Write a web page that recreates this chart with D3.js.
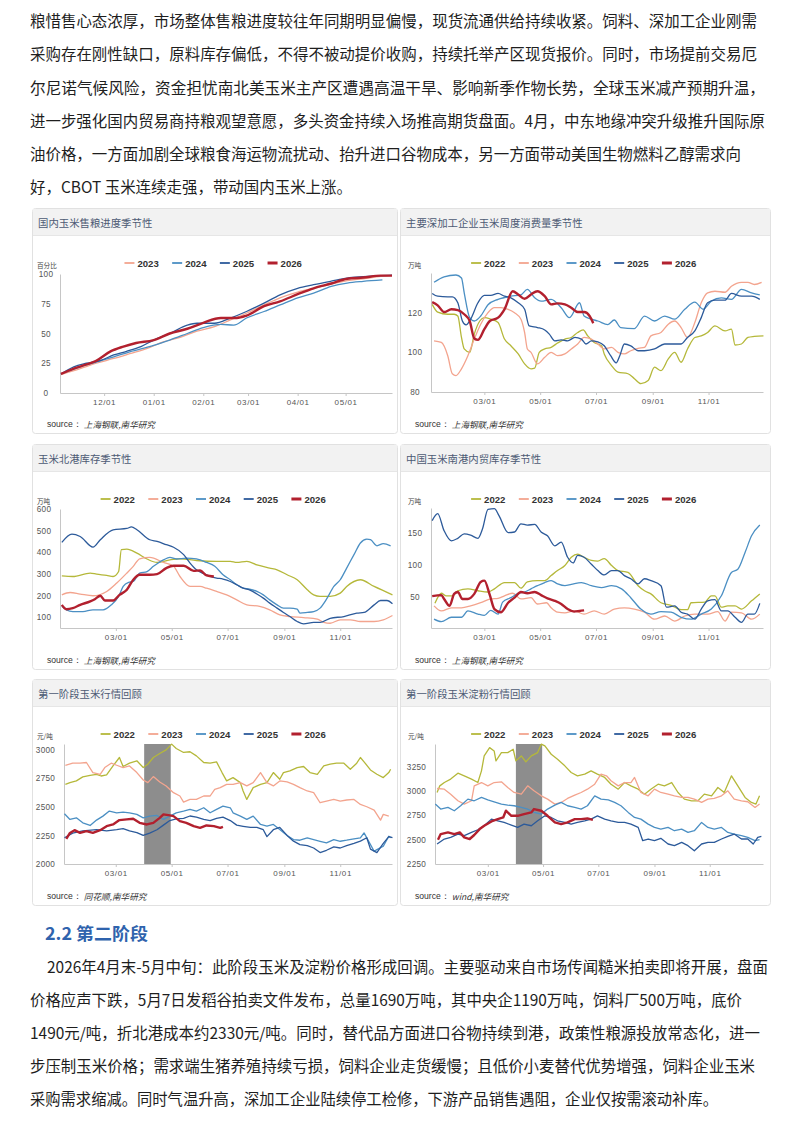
<!DOCTYPE html>
<html><head><meta charset="utf-8">
<script src="https://cdn.jsdelivr.net/npm/d3@7"></script>
<style>body{margin:0;background:#fff}svg{display:block}</style>
</head><body><svg id="page" width="800" height="1121"></svg>
<script>
// ================= DATA =================
const introLines = [
"粮惜售心态浓厚，市场整体售粮进度较往年同期明显偏慢，现货流通供给持续收紧。饲料、深加工企业刚需",
"采购存在刚性缺口，原料库存偏低，不得不被动提价收购，持续托举产区现货报价。同时，市场提前交易厄",
"尔尼诺气候风险，资金担忧南北美玉米主产区遭遇高温干旱、影响新季作物长势，全球玉米减产预期升温，",
"进一步强化国内贸易商持粮观望意愿，多头资金持续入场推高期货盘面。4月，中东地缘冲突升级推升国际原",
"油价格，一方面加剧全球粮食海运物流扰动、抬升进口谷物成本，另一方面带动美国生物燃料乙醇需求向",
"好，CBOT 玉米连续走强，带动国内玉米上涨。"];
const sectionTitle = "2.2 第二阶段";
const sectionLines = [
"2026年4月末-5月中旬：此阶段玉米及淀粉价格形成回调。主要驱动来自市场传闻糙米拍卖即将开展，盘面",
"价格应声下跌，5月7日发稻谷拍卖文件发布，总量1690万吨，其中央企1190万吨，饲料厂500万吨，底价",
"1490元/吨，折北港成本约2330元/吨。同时，替代品方面进口谷物持续到港，政策性粮源投放常态化，进一",
"步压制玉米价格；需求端生猪养殖持续亏损，饲料企业走货缓慢；且低价小麦替代优势增强，饲料企业玉米",
"采购需求缩减。同时气温升高，深加工企业陆续停工检修，下游产品销售遇阻，企业仅按需滚动补库。"];

const panelTitles = ["国内玉米售粮进度季节性","主要深加工企业玉米周度消费量季节性","玉米北港库存季节性",
  "中国玉米南港内贸库存季节性","第一阶段玉米行情回顾","第一阶段玉米淀粉行情回顾"];
const units = ["百分比","万吨","万吨","万吨","元/吨","元/吨"];
const sources = ["上海钢联,南华研究","上海钢联,南华研究","上海钢联,南华研究","上海钢联,南华研究","同花顺,南华研究","wind,南华研究"];
const years4 = ["2023","2024","2025","2026"];
const years5 = ["2022","2023","2024","2025","2026"];
const seasonTicks = ["12/01","01/01","02/01","03/01","04/01","05/01"];
const yearTicks = ["03/01","05/01","07/01","09/01","11/01"];
const yTicks1 = [0,25,50,75,100];
const yTicks2 = [80,100,120];
const yTicks3 = [100,200,300,400,500,600];
const yTicks4 = [50,100,150];
const yTicks5 = [2000,2250,2500,2750,3000];
const yTicks6 = [2250,2500,2750,3000,3250];
const shadeDates = ["04/01","04/30"];

// chart 1: [days since Nov 1, % sold]
const sales2023 = [[3,15.5],[15,20.5],[25,25],[36,29],[46,33],[57,37.5],[67,43],[78,47],[88,52],[99,55.8],[109,61.4],[119,67],[130,74],[140,80],[151,84.8],[161,88],[172,91.5],[182,94.4],[192,96],[203,98],[209,98.6]];
const sales2024 = [[3,16],[15,22],[25,26],[36,30.4],[46,34.6],[61,40],[71,44.5],[82,50],[92,55],[103,57.7],[111,57],[119,63],[130,68.5],[140,74],[151,80],[161,84],[172,89.6],[182,92.4],[192,93.8],[204,95]];
const sales2025 = [[3,16],[11,22],[19,25],[28,27.5],[36,32],[44,35],[53,39],[61,44.5],[71,50],[82,57],[88,58.6],[99,58.6],[109,63],[119,68.5],[130,75.5],[140,82.5],[151,88],[161,91],[172,94],[182,96.6],[192,97.7],[203,98.6],[210,99]];
const sales2026 = [[3,16],[11,20.5],[19,24],[25,27],[34,35],[42,39],[50,42],[61,44.5],[71,50],[82,54],[92,59],[103,63],[113,63],[119,65],[130,73],[140,77],[151,83],[161,88],[172,92],[182,96],[192,97],[203,98.6],[210,98.6]];

// chart 2: [day of year, 万吨]
const deep2022 = [[2,124.2],[8,120.3],[19,119.2],[26,119.2],[30,118.3],[34,107.5],[37,101.7],[43,100],[48,109.2],[54,115.8],[59,117.5],[66,116.7],[74,115],[81,106.7],[88,103.3],[96,99.2],[103,94.2],[110,91.7],[114,92],[119,100],[125,101.7],[132,102.5],[139,104.7],[147,106.7],[154,107.5],[161,110],[167,111.3],[172,108.3],[179,105],[187,103.3],[190,99.2],[198,93.3],[205,90],[216,89.2],[223,86.7],[230,84.2],[238,85.8],[245,92.5],[252,90.8],[260,96.7],[267,100],[274,95],[281,101.7],[289,107.5],[296,108.3],[303,110],[311,113.3],[322,110.8],[329,111.7],[333,103.7],[340,104.2],[347,107.5],[354,108],[364,108.3]];
const deep2023 = [[4,105.8],[12,105],[19,98.3],[24,89.2],[28,88.3],[34,91.7],[41,98.3],[48,106.7],[55,114.2],[63,120],[70,122.5],[77,122.5],[85,121.7],[92,120],[99,116.7],[103,110],[106,101.7],[110,100],[117,94.2],[125,97.5],[132,100],[139,98.3],[147,99.2],[154,101.7],[161,104.2],[168,107.5],[176,106.7],[183,104.2],[190,101.7],[198,102.5],[205,100],[212,99.2],[219,100.8],[227,102],[234,102.5],[241,108.3],[252,110],[260,114.2],[267,115.8],[274,112.5],[281,107.5],[289,115],[296,125],[303,130],[311,130.8],[322,130.3],[329,133.3],[340,135.3],[347,135.3],[354,134.2],[362,135.3]];
const deep2024 = [[4,135.3],[15,138],[28,139],[34,137.5],[37,130],[43,117.5],[48,115.8],[55,118.3],[63,124],[74,126.7],[88,128.3],[99,129],[106,131.7],[114,127.5],[121,125.8],[132,126.7],[143,122.5],[152,117.5],[163,125],[168,118.3],[176,116.7],[183,115.8],[194,114],[201,116.3],[208,112.5],[223,112],[234,118.3],[245,115.8],[256,118.3],[267,116.7],[278,121.7],[289,125.3],[298,121.7],[307,125.8],[318,127.5],[329,126.7],[340,131.7],[351,130],[360,129]];
const deep2025 = [[2,129.7],[8,128.3],[19,128],[24,128],[30,125],[35,115.8],[39,113.8],[44,116.7],[52,125],[59,128.7],[66,128.7],[74,129.7],[81,128.3],[88,127.5],[96,125],[103,121.7],[108,113.3],[117,112.5],[125,111.3],[130,109.2],[136,105.8],[143,106.3],[150,105.8],[158,107.5],[165,106.7],[170,104.2],[176,105.8],[183,105.3],[190,103.3],[197,98.3],[203,94.7],[207,98.3],[212,104.2],[219,103.3],[227,100.8],[234,100.8],[245,101.7],[256,104.2],[267,104.2],[274,104.2],[281,107.5],[289,110.8],[296,117.5],[303,125],[311,126.3],[322,126.3],[329,129.7],[340,128.3],[351,128.3],[360,126.7]];
const deep2026 = [[2,125.3],[8,123.7],[15,120.3],[23,121.7],[30,121.3],[37,119.2],[43,115.8],[48,107],[52,106.3],[59,111.7],[65,115.8],[74,117.5],[81,121.7],[90,130.8],[96,129.2],[103,127],[110,129.2],[117,130.8],[125,128.3],[132,124.2],[139,124.7],[147,124.2],[154,122.5],[161,120.3],[168,120.3],[174,118.3],[178,114.7]];

// chart 3: [day of year, 万吨]
const north2022 = [[0,291],[12,288],[31,304],[38,299],[49,293],[56,288],[62,311],[65,412],[71,415],[82,396],[93,369],[104,353],[118,365],[129,370],[147,362],[169,358],[184,358],[191,353],[202,358],[213,342],[227,327],[235,319],[246,296],[257,273],[268,227],[275,203],[282,196],[293,196],[304,211],[311,242],[326,273],[341,242],[361,203]];
const north2023 = [[0,203],[9,214],[20,207],[34,199],[49,219],[60,258],[71,304],[78,335],[85,370],[96,376],[111,353],[122,335],[129,288],[140,242],[151,242],[158,234],[169,219],[180,203],[191,180],[202,157],[216,150],[227,134],[238,111],[249,103],[264,98],[279,91],[286,76],[293,72],[304,88],[315,88],[326,80],[341,80],[351,88],[361,108]];
const north2024 = [[0,150],[5,134],[12,126],[23,126],[34,134],[45,134],[54,157],[62,196],[67,242],[73,261],[78,265],[85,304],[93,311],[100,335],[111,365],[118,376],[125,369],[136,373],[147,369],[158,353],[167,335],[176,296],[184,273],[191,250],[198,234],[205,230],[213,219],[220,203],[227,180],[235,157],[242,142],[249,142],[257,137],[260,119],[268,122],[275,126],[282,142],[289,183],[297,242],[304,273],[311,327],[319,389],[326,443],[333,461],[337,458],[344,430],[351,440],[359,430]];
const north2025 = [[0,446],[11,484],[20,473],[34,424],[42,458],[56,504],[71,510],[76,517],[82,504],[96,458],[104,450],[114,435],[122,423],[133,389],[140,350],[147,319],[155,301],[162,288],[169,281],[176,276],[184,265],[191,250],[198,234],[206,224],[213,207],[220,188],[227,165],[235,142],[242,122],[249,103],[257,80],[264,69],[275,76],[282,76],[293,95],[308,103],[322,119],[330,122],[341,157],[348,177],[355,177],[361,162]];
const north2026 = [[0,157],[5,137],[12,142],[20,157],[31,173],[36,183],[42,199],[47,177],[56,177],[63,203],[71,227],[78,273],[85,296],[96,296],[104,299],[114,327],[122,338],[133,338],[144,314],[151,316],[158,293],[166,288]];

// chart 4: [day of year, 万吨]
const south2022 = [[5,39],[12,55],[17,51],[24,51],[30,59],[41,62],[52,59],[63,57],[70,62],[81,72],[92,72],[99,63],[106,73],[117,75],[125,75],[132,83],[139,91],[147,99],[154,112],[161,117],[168,112],[176,107],[183,106],[190,110],[198,99],[205,91],[216,88],[227,67],[234,59],[241,54],[252,40],[263,36],[274,29],[281,29],[285,40],[300,41],[307,51],[311,51],[318,33],[325,35],[333,35],[340,30],[351,43],[360,54]];
const south2023 = [[4,35],[12,27],[23,32],[34,32],[44,35],[55,40],[66,46],[74,47],[81,51],[90,55],[99,46],[110,48],[117,38],[127,40],[132,32],[139,25],[147,24],[157,27],[168,22],[179,27],[190,22],[201,30],[212,32],[223,30],[234,25],[245,14],[256,19],[267,11],[278,19],[289,22],[303,22],[314,26],[322,11],[329,25],[340,24],[351,14],[360,22]];
const south2024 = [[4,14],[12,10],[23,17],[34,17],[41,27],[52,22],[59,20],[66,28],[74,22],[79,41],[88,48],[96,55],[103,57],[110,62],[117,67],[125,72],[132,75],[139,70],[147,67],[154,69],[165,72],[176,67],[187,64],[198,67],[209,62],[219,48],[230,30],[241,22],[252,26],[263,25],[274,17],[285,14],[296,22],[307,30],[318,51],[329,88],[336,93],[344,120],[351,146],[360,163]];
const south2025 = [[2,170],[8,181],[15,154],[23,138],[30,142],[37,149],[44,147],[52,142],[57,157],[63,188],[70,189],[75,178],[85,151],[92,152],[99,165],[106,163],[114,164],[121,152],[128,146],[136,130],[143,136],[150,112],[156,103],[161,115],[168,112],[176,101],[183,91],[190,84],[198,91],[205,91],[212,83],[219,78],[227,70],[234,78],[241,75],[252,67],[258,33],[267,35],[274,25],[281,22],[289,14],[296,30],[303,43],[311,45],[318,27],[325,27],[333,17],[340,9],[347,22],[354,22],[360,39]];
const south2026 = [[2,50.5],[12,52],[15,46],[21,35],[26,54],[30,57],[35,46],[41,46],[48,54],[55,73],[59,75],[65,52],[70,30],[77,25],[85,40],[92,48],[99,57],[106,55],[114,57],[121,52],[128,47],[136,43],[143,38],[150,30],[157,26],[163,27],[168,28]];

// chart 5: [day of year, 元/吨]
const corn2022 = [[4,2697],[9,2712],[16,2727],[23,2762],[31,2776],[38,2785],[43,2770],[49,2779],[56,2858],[63,2932],[67,2853],[74,2882],[82,2903],[89,2844],[94,2873],[100,2932],[107,2967],[114,2999],[120,3049],[125,3011],[133,2976],[140,2982],[147,2946],[155,2888],[162,2882],[169,2894],[175,2800],[180,2727],[187,2756],[195,2712],[198,2639],[202,2565],[209,2668],[217,2697],[224,2712],[231,2800],[238,2741],[242,2800],[249,2815],[257,2844],[264,2853],[271,2800],[279,2785],[286,2858],[293,2873],[300,2882],[308,2882],[315,2829],[322,2882],[326,2932],[330,2894],[337,2823],[344,2785],[351,2756],[357,2800],[359,2829]];
const corn2023 = [[4,2864],[12,2882],[20,2882],[27,2888],[34,2800],[42,2785],[47,2844],[54,2882],[60,2864],[67,2844],[74,2858],[82,2800],[89,2735],[94,2712],[100,2765],[107,2718],[114,2683],[122,2624],[129,2595],[133,2542],[140,2565],[147,2565],[155,2595],[162,2595],[167,2653],[173,2668],[180,2697],[187,2697],[195,2712],[202,2683],[209,2712],[217,2800],[224,2712],[231,2683],[238,2727],[246,2718],[253,2697],[260,2668],[268,2639],[275,2624],[282,2536],[289,2551],[297,2565],[304,2551],[311,2560],[319,2565],[326,2521],[333,2501],[341,2472],[348,2384],[351,2434],[357,2419]];
const corn2024 = [[3,2440],[9,2390],[16,2404],[23,2360],[31,2337],[38,2384],[45,2419],[52,2463],[60,2448],[67,2454],[74,2448],[82,2434],[89,2404],[96,2419],[104,2425],[111,2390],[118,2419],[125,2448],[133,2463],[140,2478],[147,2463],[155,2492],[162,2448],[169,2478],[176,2507],[184,2492],[187,2448],[195,2419],[202,2390],[209,2419],[217,2346],[224,2331],[231,2346],[238,2302],[246,2249],[253,2214],[260,2208],[268,2229],[275,2214],[282,2199],[289,2185],[297,2214],[304,2199],[311,2208],[319,2220],[326,2229],[330,2272],[333,2229],[337,2170],[341,2111],[344,2126],[351,2155],[357,2243],[359,2229]];
const corn2025 = [[3,2230],[12,2270],[23,2290],[38,2300],[49,2290],[60,2300],[67,2310],[74,2290],[82,2275],[89,2250],[96,2270],[104,2300],[111,2340],[118,2380],[125,2395],[133,2400],[140,2420],[147,2410],[155,2390],[162,2380],[169,2400],[176,2410],[184,2380],[191,2340],[198,2330],[206,2320],[213,2320],[220,2300],[224,2240],[231,2300],[238,2320],[246,2250],[253,2200],[260,2170],[268,2160],[275,2140],[282,2100],[289,2120],[297,2150],[304,2140],[311,2160],[319,2180],[326,2200],[333,2230],[337,2130],[344,2100],[351,2180],[357,2240],[361,2230]];
const corn2026 = [[5,2220],[9,2272],[14,2296],[20,2272],[27,2287],[34,2272],[42,2296],[49,2331],[56,2346],[63,2384],[71,2390],[78,2396],[85,2360],[93,2346],[100,2360],[107,2404],[111,2434],[118,2425],[122,2419],[129,2375],[136,2360],[144,2331],[151,2316],[158,2337],[166,2331],[173,2316],[176,2325]];

// chart 6: [day of year, 元/吨]
const starch2022 = [[3,2983],[6,3051],[11,3085],[18,3120],[26,3181],[33,3154],[41,3120],[48,3085],[52,3205],[55,3358],[61,3443],[66,3409],[68,3307],[74,3392],[81,3392],[87,3426],[90,3307],[96,3358],[101,3297],[107,3358],[114,3392],[118,3478],[122,3460],[129,3375],[136,3324],[144,3256],[151,3188],[158,3154],[166,3171],[173,3205],[180,3171],[188,3137],[195,3068],[203,3017],[210,3085],[217,3051],[225,3017],[232,2966],[239,3017],[247,3068],[254,3051],[262,3085],[269,2983],[276,2915],[284,2898],[291,2898],[298,2966],[306,2949],[313,3034],[320,2983],[328,3154],[335,3051],[343,2932],[350,2881],[355,2864],[359,2949]];
const starch2023 = [[3,3024],[11,3017],[18,2966],[26,2898],[33,2864],[41,2898],[44,3051],[52,3085],[59,3051],[66,3085],[74,3092],[81,3034],[88,2983],[96,2966],[103,3051],[110,3000],[118,2949],[125,2915],[133,2864],[140,2881],[147,2922],[155,2956],[162,2983],[169,3017],[177,3068],[184,3171],[190,3154],[195,3103],[203,3051],[210,3085],[217,3085],[221,3137],[228,2983],[236,2949],[243,3017],[250,2983],[258,2966],[265,2949],[273,2932],[280,2932],[287,2915],[295,2881],[302,2915],[309,2922],[317,2949],[324,3000],[331,2915],[339,2898],[346,2888],[354,2830],[359,2864]];
const starch2024 = [[1,2864],[7,2813],[15,2830],[22,2796],[29,2847],[37,2915],[44,2898],[52,2932],[59,2908],[66,2888],[74,2864],[81,2854],[88,2847],[96,2830],[103,2813],[110,2779],[118,2762],[125,2813],[133,2854],[140,2881],[147,2847],[155,2830],[162,2813],[169,2847],[177,2949],[184,2915],[192,2908],[199,2881],[206,2847],[214,2779],[221,2727],[228,2710],[236,2659],[243,2625],[250,2608],[258,2625],[265,2591],[273,2608],[280,2574],[287,2591],[295,2676],[302,2625],[309,2608],[317,2625],[324,2574],[331,2557],[339,2540],[346,2523],[354,2489],[359,2499]];
const starch2025 = [[3,2455],[11,2506],[18,2523],[26,2557],[33,2540],[41,2574],[48,2601],[55,2642],[63,2710],[70,2693],[77,2676],[85,2649],[92,2625],[99,2659],[107,2642],[114,2693],[122,2744],[129,2727],[136,2693],[144,2676],[151,2659],[158,2676],[166,2693],[173,2710],[180,2744],[188,2710],[195,2693],[203,2676],[210,2676],[217,2659],[225,2625],[230,2489],[236,2506],[243,2489],[250,2513],[258,2455],[265,2438],[273,2472],[280,2438],[287,2386],[295,2455],[302,2472],[309,2472],[317,2506],[324,2533],[331,2557],[339,2506],[346,2506],[352,2455],[357,2523],[361,2533]];
const starch2026 = [[4,2499],[7,2557],[15,2574],[22,2557],[28,2574],[33,2523],[39,2506],[44,2547],[50,2608],[55,2642],[63,2686],[70,2710],[76,2727],[79,2796],[85,2744],[92,2744],[99,2762],[107,2779],[110,2813],[118,2796],[125,2744],[133,2676],[140,2659],[147,2676],[155,2710],[162,2710],[169,2717],[175,2703]];

// ================= DRAW =================
const COLORS = {"2022":"#b5b83a","2023":"#f3a48e","2024":"#4b8fc3","2025":"#2c5a9a","2026":"#b2202e"};
const CJK = "'Noto Sans CJK SC','Noto Sans',sans-serif";
const LAT = "'Liberation Sans',Arial,sans-serif";
const DAY = 864e5;
const svg = d3.select("#page");
svg.append("rect").attr("width",800).attr("height",1121).attr("fill","#fff");

// paragraph text
const introY = [20,53,87,120,153,186], introX0 = 30, introX1 = [757,757,765,765,741,352];
introLines.forEach((t,i)=>{
  svg.append("text").attr("x",introX0).attr("y",introY[i]).attr("dominant-baseline","central")
    .attr("textLength",introX1[i]-introX0).attr("lengthAdjust","spacingAndGlyphs")
    .style("font-family",CJK).style("font-size","15.5px").style("fill","#1e1e1e").text(t);
});
svg.append("text").attr("x",45).attr("y",932).attr("dominant-baseline","central")
  .attr("textLength",103).attr("lengthAdjust","spacingAndGlyphs")
  .style("font-family",CJK).style("font-size","17.5px").style("font-weight","bold").style("fill","#2f63ad").text(sectionTitle);
const secY = [966,999,1032,1065,1098], secX0 = [47,30,30,30,30], secX1 = [768,742,760,755,718];
sectionLines.forEach((t,i)=>{
  svg.append("text").attr("x",secX0[i]).attr("y",secY[i]).attr("dominant-baseline","central")
    .attr("textLength",secX1[i]-secX0[i]).attr("lengthAdjust","spacingAndGlyphs")
    .style("font-family",CJK).style("font-size","15.5px").style("fill","#1e1e1e").text(t);
});

function yearDate(lbl, year){ const [m,d] = lbl.split("/").map(Number); return new Date(Date.UTC(year,m-1,d)); }

function panel(o){
  const g = svg.append("g");
  const b = o.box;
  g.append("rect").attr("x",b.x+0.5).attr("y",b.y+0.5).attr("width",b.w).attr("height",b.h).attr("rx",3)
    .attr("fill","#fff").attr("stroke","#e1e1e1");
  g.append("rect").attr("x",b.x+1).attr("y",b.y+1).attr("width",b.w-1).attr("height",26).attr("fill","#f2f2f2");
  g.append("line").attr("x1",b.x+1).attr("x2",b.x+b.w).attr("y1",b.y+27.5).attr("y2",b.y+27.5).attr("stroke","#e6e6e6");
  g.append("text").attr("x",b.x+6).attr("y",b.y+14).attr("dominant-baseline","central")
    .style("font-family",CJK).style("font-size","10.4px").style("fill","#4d5a74").text(o.title);

  const x = d3.scaleUtc().domain(o.xDomain.map(d=>new Date(o.base + d*DAY))).range([o.plot.x0,o.plot.x1]);
  const y = d3.scaleLinear().domain(o.yDomain).range([o.plot.y1,o.plot.y0]);

  if(o.shade){
    const s0 = x(yearDate(o.shade[0],2026)), s1 = x(yearDate(o.shade[1],2026));
    g.append("rect").attr("x",s0).attr("y",o.plot.y0).attr("width",s1-s0).attr("height",o.plot.y1-o.plot.y0).attr("fill","#8d8d8d");
  }

  // axes
  const xa = g.append("g").attr("transform",`translate(0,${o.plot.y1})`)
    .call(d3.axisBottom(x).tickValues(o.xTicks).tickFormat(d3.utcFormat("%m/%d")).tickSize(3).tickSizeOuter(0).tickPadding(3));
  xa.select(".domain").attr("stroke","#c6c6c6");
  xa.selectAll(".tick line").attr("stroke","#c6c6c6");
  xa.selectAll("text").style("font-family",LAT).style("font-size","8px").style("letter-spacing","0.6px").style("fill","#555");
  const ya = g.append("g").attr("transform",`translate(${o.plot.x0},0)`)
    .call(d3.axisLeft(y).tickValues(o.yTicks).tickFormat(d3.format("d")).tickSize(0).tickSizeOuter(0));
  ya.select(".domain").attr("stroke","#c6c6c6");
  ya.selectAll("text").attr("x",o.yLabelX - o.plot.x0).attr("text-anchor","middle")
    .style("font-family",LAT).style("font-size","8.2px").style("letter-spacing","0.3px").style("fill","#555");

  // lines
  const line = d3.line().x(d=>x(new Date(o.base + d[0]*DAY))).y(d=>y(d[1])).curve(o.curve);
  o.series.forEach((s,i)=>{
    g.append("path").datum(s).attr("d",line).attr("fill","none")
      .attr("stroke",COLORS[o.years[i]]).attr("stroke-width",o.years[i]==="2026"?2.4:1.3)
      .attr("stroke-linejoin","round");
  });

  // legend
  const n = o.years.length, step = 47.7, total = (n-1)*step + 37;
  const lx = b.x + b.w/2 - total/2, ly = b.y + 55;
  o.years.forEach((yr,i)=>{
    const gx = lx + i*step;
    g.append("line").attr("x1",gx).attr("x2",gx+10).attr("y1",ly).attr("y2",ly)
      .attr("stroke",COLORS[yr]).attr("stroke-width",yr==="2026"?3:1.8);
    g.append("text").attr("x",gx+13).attr("y",ly).attr("dominant-baseline","central")
      .style("font-family",LAT).style("font-size","9.6px").style("font-weight","bold").style("fill","#333").text(yr);
  });

  // unit
  g.append("text").attr("x",b.x+ (b.x<100?5:8)).attr("y",b.y+56.5).attr("dominant-baseline","central")
    .style("font-family",CJK).style("font-size","6.6px").style("fill","#444").text(o.unit);

  // source
  const st = g.append("text").attr("x",b.x+15).attr("y",b.y+b.h-9).attr("dominant-baseline","central")
    .style("font-size","8.6px").style("fill","#333");
  st.append("tspan").style("font-family",LAT).text("source：");
  st.append("tspan").style("font-family",CJK).style("font-style","italic").attr("dx",2).text(o.source);
}

const baseSeason = Date.UTC(2025,10,1), baseYear = Date.UTC(2026,0,1);
const seasonTickDates = seasonTicks.map(t=>yearDate(t, +t.slice(0,2)>=11?2025:2026));
const yearTickDates = yearTicks.map(t=>yearDate(t,2026));
const mono = d3.curveMonotoneX, lin = d3.curveLinear;

panel({box:{x:32,y:208,w:365,h:225}, title:panelTitles[0], unit:units[0], source:sources[0],
  plot:{x0:60,x1:392,y0:274,y1:393}, base:baseSeason, xDomain:[2.4,210], yDomain:[0,100], yTicks:yTicks1, yLabelX:46,
  xTicks:seasonTickDates, years:years4, series:[sales2023,sales2024,sales2025,sales2026], curve:mono});
panel({box:{x:400,y:208,w:370,h:225}, title:panelTitles[1], unit:units[1], source:sources[1],
  plot:{x0:431,x1:763,y0:273,y1:392}, base:baseYear, xDomain:[0.7,363.5], yDomain:[80,140], yTicks:yTicks2, yLabelX:415,
  xTicks:yearTickDates, years:years5, series:[deep2022,deep2023,deep2024,deep2025,deep2026], curve:mono});
panel({box:{x:32,y:444,w:365,h:225}, title:panelTitles[2], unit:units[2], source:sources[2],
  plot:{x0:60,x1:392,y0:509,y1:628}, base:baseYear, xDomain:[-2,360.5], yDomain:[50,600], yTicks:yTicks3, yLabelX:44,
  xTicks:yearTickDates, years:years5, series:[north2022,north2023,north2024,north2025,north2026], curve:mono});
panel({box:{x:400,y:444,w:370,h:225}, title:panelTitles[3], unit:units[3], source:sources[3],
  plot:{x0:431,x1:763,y0:508,y1:628}, base:baseYear, xDomain:[0.7,363.5], yDomain:[0,190], yTicks:yTicks4, yLabelX:415,
  xTicks:yearTickDates, years:years5, series:[south2022,south2023,south2024,south2025,south2026], curve:mono});
panel({box:{x:32,y:679,w:365,h:226}, title:panelTitles[4], unit:units[4], source:sources[4],
  plot:{x0:64,x1:392,y0:744,y1:864}, base:baseYear, xDomain:[2.5,360.5], yDomain:[2000,3050], yTicks:yTicks5, yLabelX:45.5,
  xTicks:yearTickDates, years:years5, series:[corn2022,corn2023,corn2024,corn2025,corn2026], curve:lin, shade:shadeDates});
panel({box:{x:400,y:679,w:370,h:226}, title:panelTitles[5], unit:units[5], source:sources[5],
  plot:{x0:435,x1:763,y0:744,y1:864}, base:baseYear, xDomain:[0.7,362.8], yDomain:[2250,3480], yTicks:yTicks6, yLabelX:416.5,
  xTicks:yearTickDates, years:years5, series:[starch2022,starch2023,starch2024,starch2025,starch2026], curve:lin, shade:shadeDates});
</script></body></html>
